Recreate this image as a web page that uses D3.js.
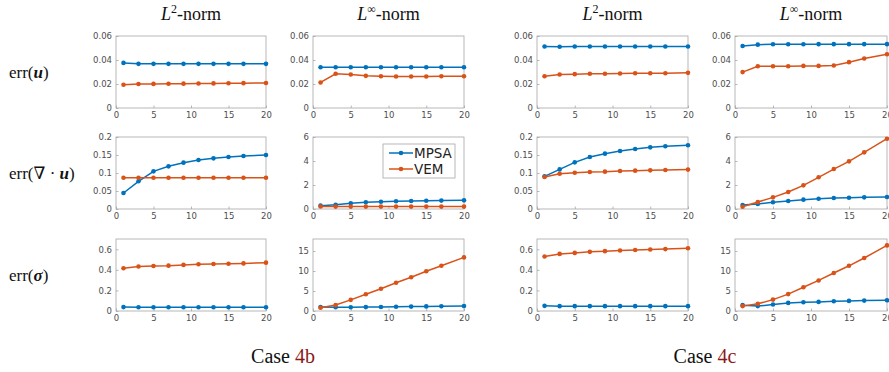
<!DOCTYPE html>
<html>
<head>
<meta charset="utf-8">
<script src="https://cdn.jsdelivr.net/npm/d3@7/dist/d3.min.js"></script>
<style>
  html, body { margin: 0; padding: 0; background: #fff; }
  svg { display: block; }
</style>
</head>
<body>
<svg id="chart" width="889" height="372"></svg>
<script>
// Refinement levels (shared x values)
const levels = [1, 3, 5, 7, 9, 11, 13, 15, 17, 20];
const xTicks = [0, 5, 10, 15, 20];

// Case 4b
const u_L2_4b_MPSA   = [0.0376, 0.0368, 0.0368, 0.0368, 0.0368, 0.0368, 0.0368, 0.0368, 0.0368, 0.0368];
const u_L2_4b_VEM    = [0.0194, 0.0200, 0.0201, 0.0202, 0.0203, 0.0204, 0.0205, 0.0206, 0.0207, 0.0208];
const u_Linf_4b_MPSA = [0.0340, 0.0340, 0.0340, 0.0340, 0.0340, 0.0340, 0.0340, 0.0340, 0.0340, 0.0340];
const u_Linf_4b_VEM  = [0.0213, 0.0285, 0.0279, 0.0268, 0.0265, 0.0263, 0.0263, 0.0263, 0.0264, 0.0265];
const div_L2_4b_MPSA   = [0.0444, 0.0769, 0.1046, 0.1185, 0.1287, 0.1361, 0.1407, 0.1444, 0.1472, 0.1500];
const div_L2_4b_VEM    = [0.0868, 0.0870, 0.0870, 0.0870, 0.0870, 0.0870, 0.0870, 0.0870, 0.0870, 0.0870];
const div_Linf_4b_MPSA = [0.28, 0.36, 0.47, 0.56, 0.61, 0.64, 0.67, 0.69, 0.70, 0.72];
const div_Linf_4b_VEM  = [0.21, 0.20, 0.20, 0.20, 0.20, 0.20, 0.20, 0.20, 0.20, 0.20];
const sig_L2_4b_MPSA   = [0.038, 0.036, 0.036, 0.036, 0.036, 0.036, 0.036, 0.036, 0.036, 0.036];
const sig_L2_4b_VEM    = [0.416, 0.432, 0.438, 0.441, 0.448, 0.454, 0.457, 0.460, 0.463, 0.470];
const sig_Linf_4b_MPSA = [1.00, 0.95, 0.95, 0.97, 1.00, 1.05, 1.10, 1.15, 1.20, 1.25];
const sig_Linf_4b_VEM  = [0.82, 1.48, 2.79, 4.18, 5.57, 7.05, 8.44, 9.92, 11.3, 13.4];

// Case 4c
const u_L2_4c_MPSA   = [0.0513, 0.0511, 0.0513, 0.0513, 0.0513, 0.0513, 0.0513, 0.0513, 0.0513, 0.0513];
const u_L2_4c_VEM    = [0.0265, 0.0279, 0.0282, 0.0285, 0.0285, 0.0288, 0.0289, 0.0290, 0.0290, 0.0293];
const u_Linf_4c_MPSA = [0.0517, 0.0528, 0.0531, 0.0531, 0.0531, 0.0532, 0.0532, 0.0532, 0.0532, 0.0532];
const u_Linf_4c_VEM  = [0.0299, 0.0348, 0.0348, 0.0348, 0.0351, 0.0351, 0.0354, 0.0382, 0.0412, 0.0448];
const div_L2_4c_MPSA   = [0.0907, 0.1100, 0.1296, 0.1444, 0.1537, 0.1611, 0.1667, 0.1713, 0.1741, 0.1770];
const div_L2_4c_VEM    = [0.0889, 0.0981, 0.1009, 0.1028, 0.1037, 0.1056, 0.1065, 0.1074, 0.1083, 0.1095];
const div_Linf_4c_MPSA = [0.33, 0.42, 0.56, 0.67, 0.78, 0.86, 0.92, 0.94, 0.97, 1.00];
const div_Linf_4c_VEM  = [0.19, 0.58, 0.97, 1.42, 1.97, 2.64, 3.33, 3.97, 4.72, 5.86];
const sig_L2_4c_MPSA   = [0.050, 0.047, 0.047, 0.047, 0.047, 0.047, 0.047, 0.047, 0.047, 0.047];
const sig_L2_4c_VEM    = [0.530, 0.555, 0.565, 0.575, 0.582, 0.588, 0.593, 0.598, 0.602, 0.610];
const sig_Linf_4c_MPSA = [1.46, 1.22, 1.63, 2.03, 2.20, 2.28, 2.44, 2.52, 2.60, 2.68];
const sig_Linf_4c_VEM  = [1.22, 1.79, 2.85, 4.23, 5.93, 7.64, 9.51, 11.3, 13.25, 16.4];

// y-axis ticks per row / norm
const yTicksU     = [0, 0.02, 0.04, 0.06];
const yTicksDivL2 = [0, 0.05, 0.1, 0.15, 0.2];
const yTicksDivLi = [0, 2, 4, 6];
const yTicksSigL2 = [0, 0.2, 0.4, 0.6];
const yTicksSigLi = [0, 5, 10, 15];

const seriesNames = ["MPSA", "VEM"];
const colors = { MPSA: "#0072BD", VEM: "#D95319" };

// Layout
const colX = [[116, 266], [313, 464], [537, 688], [735, 887]];
const rowY = [[36, 108], [137, 209], [239, 311]];

const panels = [
  { r: 0, c: 0, ymax: 0.06, ticks: yTicksU, MPSA: u_L2_4b_MPSA, VEM: u_L2_4b_VEM },
  { r: 0, c: 1, ymax: 0.06, ticks: yTicksU, MPSA: u_Linf_4b_MPSA, VEM: u_Linf_4b_VEM },
  { r: 0, c: 2, ymax: 0.06, ticks: yTicksU, MPSA: u_L2_4c_MPSA, VEM: u_L2_4c_VEM },
  { r: 0, c: 3, ymax: 0.06, ticks: yTicksU, MPSA: u_Linf_4c_MPSA, VEM: u_Linf_4c_VEM },
  { r: 1, c: 0, ymax: 0.2, ticks: yTicksDivL2, MPSA: div_L2_4b_MPSA, VEM: div_L2_4b_VEM },
  { r: 1, c: 1, ymax: 6, ticks: yTicksDivLi, MPSA: div_Linf_4b_MPSA, VEM: div_Linf_4b_VEM, legend: true },
  { r: 1, c: 2, ymax: 0.2, ticks: yTicksDivL2, MPSA: div_L2_4c_MPSA, VEM: div_L2_4c_VEM },
  { r: 1, c: 3, ymax: 6, ticks: yTicksDivLi, MPSA: div_Linf_4c_MPSA, VEM: div_Linf_4c_VEM },
  { r: 2, c: 0, ymax: 0.7, ticks: yTicksSigL2, MPSA: sig_L2_4b_MPSA, VEM: sig_L2_4b_VEM },
  { r: 2, c: 1, ymax: 18, ticks: yTicksSigLi, MPSA: sig_Linf_4b_MPSA, VEM: sig_Linf_4b_VEM },
  { r: 2, c: 2, ymax: 0.7, ticks: yTicksSigL2, MPSA: sig_L2_4c_MPSA, VEM: sig_L2_4c_VEM },
  { r: 2, c: 3, ymax: 18, ticks: yTicksSigLi, MPSA: sig_Linf_4c_MPSA, VEM: sig_Linf_4c_VEM },
];

const svg = d3.select("#chart");
const serif = "'Liberation Serif', 'DejaVu Serif', serif";
const sans = "'DejaVu Sans', 'Liberation Sans', sans-serif";
const fmt = d => String(+d.toFixed(4));

panels.forEach(p => {
  const [x0, x1] = colX[p.c];
  const [y0, y1] = rowY[p.r];
  const x = d3.scaleLinear().domain([0, 20]).range([x0, x1]);
  const y = d3.scaleLinear().domain([0, p.ymax]).range([y1, y0]);
  const g = svg.append("g");

  // plot box
  g.append("rect")
    .attr("x", x0).attr("y", y0)
    .attr("width", x1 - x0).attr("height", y1 - y0)
    .attr("fill", "#fff").attr("stroke", "#a6a6a6").attr("stroke-width", 0.8);

  const xa = g.append("g").attr("transform", `translate(0,${y1})`)
    .call(d3.axisBottom(x).tickValues(xTicks).tickSize(-2.5).tickPadding(4).tickFormat(fmt));
  const ya = g.append("g").attr("transform", `translate(${x0},0)`)
    .call(d3.axisLeft(y).tickValues(p.ticks).tickSize(-2.5).tickPadding(4).tickFormat(fmt));
  [xa, ya].forEach(a => {
    a.select(".domain").remove();
    a.selectAll(".tick line").attr("stroke", "#a6a6a6").attr("stroke-width", 0.8);
    a.selectAll(".tick text").attr("fill", "#4d4d4d")
      .style("font-family", sans).style("font-size", "8.5px");
  });

  const line = d3.line().x((d, i) => x(levels[i])).y(d => y(d));
  seriesNames.forEach(name => {
    g.append("path").datum(p[name])
      .attr("d", line).attr("fill", "none")
      .attr("stroke", colors[name]).attr("stroke-width", 1.5);
    g.selectAll(null).data(p[name]).join("circle")
      .attr("cx", (d, i) => x(levels[i])).attr("cy", d => y(d))
      .attr("r", 2.3).attr("fill", colors[name]);
  });

  if (p.legend) {
    const lg = svg.append("g");
    lg.append("rect").attr("x", 383).attr("y", 144).attr("width", 72).attr("height", 34)
      .attr("fill", "#fff").attr("stroke", "#a6a6a6").attr("stroke-width", 0.8);
    seriesNames.forEach((name, i) => {
      const ly = 153 + i * 16;
      lg.append("line").attr("x1", 389).attr("x2", 413).attr("y1", ly).attr("y2", ly)
        .attr("stroke", colors[name]).attr("stroke-width", 1.5);
      lg.append("circle").attr("cx", 401).attr("cy", ly).attr("r", 2.3).attr("fill", colors[name]);
      lg.append("text").attr("x", 414).attr("y", ly + 5).text(name)
        .attr("fill", "#222").style("font-family", sans).style("font-size", "13.5px");
    });
  }
});

// Column titles
const titles = [
  { c: 0, sup: "2" }, { c: 1, sup: "∞" }, { c: 2, sup: "2" }, { c: 3, sup: "∞" }
];
titles.forEach(t => {
  const cx = (colX[t.c][0] + colX[t.c][1]) / 2;
  const tx = svg.append("text").attr("x", cx).attr("y", 20)
    .attr("text-anchor", "middle").attr("fill", "#111")
    .style("font-family", serif).style("font-size", "18px");
  tx.append("tspan").attr("font-style", "italic").text("L");
  tx.append("tspan").attr("dy", -7).style("font-size", "12px").text(t.sup);
  tx.append("tspan").attr("dy", 7).text("-norm");
});

// Row labels
const rowLabels = [
  { r: 0, parts: [["err(", ""], ["u", "bi"], [")", ""]] },
  { r: 1, parts: [["err(∇ · ", ""], ["u", "bi"], [")", ""]] },
  { r: 2, parts: [["err(", ""], ["σ", "bi"], [")", ""]] },
];
rowLabels.forEach(rl => {
  const cy = (rowY[rl.r][0] + rowY[rl.r][1]) / 2 + 6;
  const tx = svg.append("text").attr("x", 9).attr("y", cy).attr("fill", "#111")
    .style("font-family", serif).style("font-size", "17px");
  rl.parts.forEach(([s, st]) => {
    const ts = tx.append("tspan").text(s);
    if (st === "bi") ts.attr("font-weight", "bold").attr("font-style", "italic");
  });
});

// Case captions
const cases = [{ x: 283, label: "4b" }, { x: 705, label: "4c" }];
cases.forEach(cs => {
  const tx = svg.append("text").attr("x", cs.x).attr("y", 363)
    .attr("text-anchor", "middle").attr("fill", "#111")
    .style("font-family", serif).style("font-size", "20px");
  tx.append("tspan").text("Case ");
  tx.append("tspan").attr("fill", "#8b1a1a").text(cs.label);
});
</script>
</body>
</html>
